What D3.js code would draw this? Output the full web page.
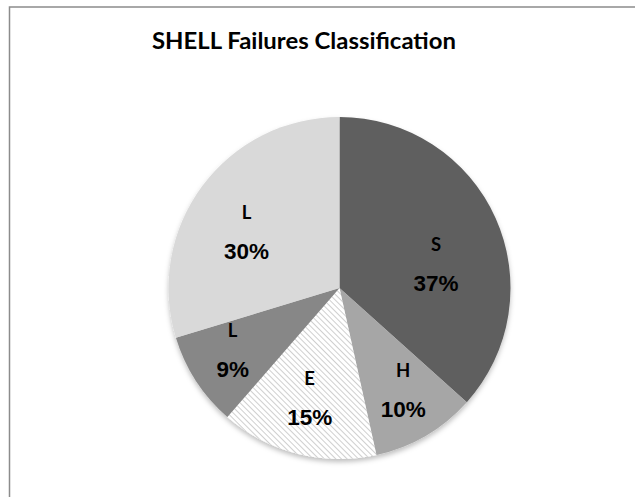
<!DOCTYPE html>
<html>
<head>
<meta charset="utf-8">
<script src="https://cdn.jsdelivr.net/npm/d3@7"></script>
<style>
  body { margin: 0; background: #fff; }
  svg { display: block; }
</style>
</head>
<body>
<svg id="chart"></svg>
<script>
// chart data
const categories = ["S", "H", "E", "L", "L"];
const shares = [37, 10, 15, 9, 30];
const fills = ["#5f5f5f", "#a6a6a6", "url(#hatch)", "#878787", "#d9d9d9"];

const width = 635, height = 497;
const cx = 339.5, cy = 288, radius = 171;

const svg = d3.select("#chart")
    .attr("width", width)
    .attr("height", height);

const defs = svg.append("defs");

// diagonal hatch for the E slice
const hatch = defs.append("pattern")
    .attr("id", "hatch")
    .attr("patternUnits", "userSpaceOnUse")
    .attr("width", 4)
    .attr("height", 4)
    .attr("patternTransform", "rotate(-45)");
hatch.append("rect").attr("width", 4).attr("height", 4).attr("fill", "#fff");
hatch.append("line")
    .attr("x1", 0).attr("y1", 0).attr("x2", 0).attr("y2", 4)
    .attr("stroke", "#b5b5b5")
    .attr("stroke-width", 1.3);

const shadow = defs.append("filter")
    .attr("id", "shadow")
    .attr("x", "-10%").attr("y", "-10%")
    .attr("width", "120%").attr("height", "125%");
shadow.append("feDropShadow")
    .attr("dx", 0).attr("dy", 3)
    .attr("stdDeviation", 2.5)
    .attr("flood-color", "#000")
    .attr("flood-opacity", 0.25);

// chart frame (runs off the right and bottom)
svg.append("rect")
    .attr("x", 9.5).attr("y", 7)
    .attr("width", 700).attr("height", 600)
    .attr("fill", "none")
    .attr("stroke", "#8c8c8c")
    .attr("stroke-width", 1.5);

svg.append("text")
    .attr("x", 152)
    .attr("y", 49)
    .attr("textLength", 304)
    .attr("lengthAdjust", "spacingAndGlyphs")
    .attr("font-family", "Lato, 'Open Sans', sans-serif")
    .attr("font-weight", "bold")
    .attr("font-size", "22px")
    .attr("fill", "#000")
    .text("SHELL Failures Classification");

const data = categories.map((c, i) => ({ name: c, value: shares[i], fill: fills[i] }));

const pie = d3.pie()
    .value(d => d.value)
    .sort(null);

const arc = d3.arc()
    .innerRadius(0)
    .outerRadius(radius);

const g = svg.append("g")
    .attr("transform", `translate(${cx},${cy})`);

const arcs = pie(data);

g.append("g")
    .attr("filter", "url(#shadow)")
    .selectAll("path")
    .data(arcs)
    .enter().append("path")
    .attr("d", arc)
    .attr("fill", d => d.data.fill);

// "best fit" style labels: small slices push out, big slices lean toward the horizontal
function labelPos(d) {
    const f = (d.endAngle - d.startAngle) / (2 * Math.PI);
    const r = radius * (0.8 - 0.62 * f);
    let a = (d.startAngle + d.endAngle) / 2;
    const horiz = a < Math.PI ? Math.PI / 2 : 3 * Math.PI / 2;
    a += (horiz - a) * Math.max(0, (f - 0.25) * 5);
    return [r * Math.sin(a), -r * Math.cos(a)];
}

const labels = g.selectAll(".label")
    .data(arcs)
    .enter().append("g")
    .attr("class", "label")
    .attr("transform", d => `translate(${labelPos(d)})`);

labels.append("text")
    .attr("y", -20)
    .attr("text-anchor", "middle")
    .attr("font-family", "Lato, sans-serif")
    .attr("font-weight", "bold")
    .attr("font-size", "18.5px")
    .attr("fill", "#000")
    .text(d => d.data.name);

labels.append("text")
    .attr("y", 20)
    .attr("text-anchor", "middle")
    .attr("font-family", "'Liberation Sans', Arial, sans-serif")
    .attr("font-weight", "bold")
    .attr("font-size", "22.5px")
    .attr("fill", "#000")
    .text(d => `${d.data.value}%`);
</script>
</body>
</html>
